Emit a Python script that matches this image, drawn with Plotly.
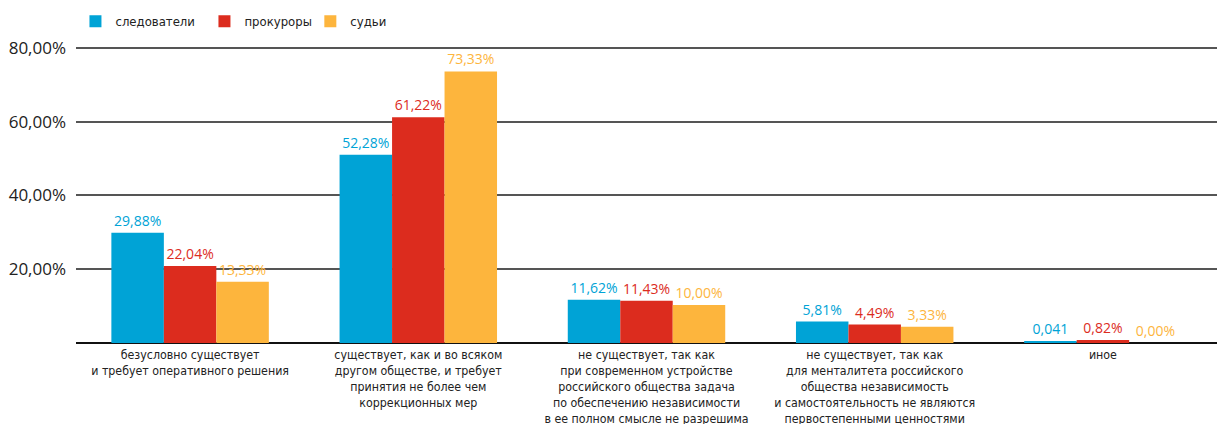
import plotly.graph_objects as go

categories = [
    "безусловно существует<br>и требует оперативного решения",
    "существует, как и во всяком<br>другом обществе, и требует<br>принятия не более чем<br>коррекционных мер",
    "не существует, так как<br>при современном устройстве<br>российского общества задача<br>по обеспечению независимости<br>в ее полном смысле не разрешима",
    "не существует, так как<br>для менталитета российского<br>общества независимость<br>и самостоятельность не являются<br>первостепенными ценностями",
    "иное",
]
series_names = ["следователи", "прокуроры", "судьи"]

# bar heights as drawn in the reference (percent)
investigators = [29.88, 51.0, 11.7, 5.81, 0.41]
prosecutors = [20.9, 61.22, 11.43, 5.0, 0.82]
judges = [16.6, 73.6, 10.3, 4.4, 0.0]

# value labels as printed in the reference
investigators_lbl = ["29,88%", "52,28%", "11,62%", "5,81%", "0,041"]
prosecutors_lbl = ["22,04%", "61,22%", "11,43%", "4,49%", "0,82%"]
judges_lbl = ["13,33%", "73,33%", "10,00%", "3,33%", "0,00%"]

y_ticks = [20, 40, 60, 80]
y_tick_labels = ["20,00%", "40,00%", "60,00%", "80,00%"]

colors = ["#00A3D6", "#DC2C1E", "#FDB53D"]
COND = "DejaVu Sans Condensed, Roboto, sans-serif"
legend_ids = ["legend", "legend2", "legend3"]
legend_x = [0.062, 0.168, 0.255]

fig = go.Figure()
for name, vals, lbls, col, lg in zip(
    series_names,
    [investigators, prosecutors, judges],
    [investigators_lbl, prosecutors_lbl, judges_lbl],
    colors, legend_ids,
):
    fig.add_trace(go.Bar(
        x=list(range(len(categories))), y=vals, name=name, legend=lg,
        marker=dict(color=col, line=dict(width=0)),
        text=lbls, textposition="outside", cliponaxis=False,
        textfont=dict(family="Open Sans", size=14, color=col),
        hoverinfo="skip",
    ))

legend_common = dict(
    orientation="h", y=0.985, xref="container", yref="container",
    xanchor="left", yanchor="top",
    font=dict(family=COND, size=13, color="#222"),
    itemwidth=30, bgcolor="rgba(0,0,0,0)",
)

fig.update_layout(
    width=1217, height=424,
    margin=dict(l=76, r=0, t=46, b=81, autoexpand=False),
    paper_bgcolor="white", plot_bgcolor="white",
    barmode="group", bargap=0.31, bargroupgap=0,
    showlegend=True,
    legend=dict(x=legend_x[0], **legend_common),
    legend2=dict(x=legend_x[1], **legend_common),
    legend3=dict(x=legend_x[2], **legend_common),
    xaxis=dict(
        tickmode="array", tickvals=list(range(len(categories))), ticktext=categories,
        tickfont=dict(family=COND, size=12.3, color="#222"),
        showgrid=False, showline=False, zeroline=False, ticks="",
        range=[-0.5, len(categories) - 0.5], automargin=False,
        ticklabelstandoff=3,
    ),
    yaxis=dict(
        range=[0, 80.5], tickmode="array", tickvals=y_ticks, ticktext=y_tick_labels,
        tickfont=dict(family="Open Sans", size=17, color="#222"),
        showgrid=True, gridcolor="#555", gridwidth=1.6,
        zeroline=True, zerolinecolor="#111", zerolinewidth=1.6,
        showline=False, ticks="", ticklabelstandoff=9, automargin=False,
    ),
)

fig.write_html(
    "out.html",
    config={"displayModeBar": False},
    post_script="document.body.style.margin='0';document.body.style.overflow='hidden';",
)
